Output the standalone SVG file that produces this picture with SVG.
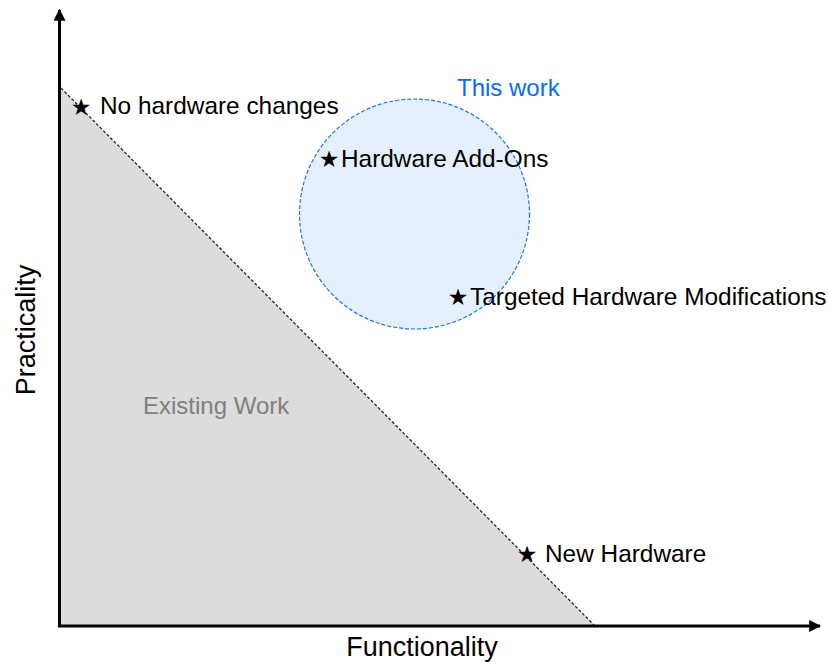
<svg xmlns="http://www.w3.org/2000/svg" width="829" height="662" viewBox="0 0 829 662">
  <style>
    text { font-family: "Liberation Sans", Arial, sans-serif; }
    .lbl { font-size: 24.4px; fill: #000; }
    .star { font-family: "DejaVu Sans", sans-serif; font-size: 23px; fill: #000; }
    .axis { stroke: #000; stroke-width: 3; fill: none; }
  </style>
  <defs>
    <marker id="arrow" viewBox="0 0 10 10" refX="9" refY="5" markerWidth="4" markerHeight="4" orient="auto" markerUnits="strokeWidth">
      <path d="M0,0 L10,5 L0,10 z" fill="#000"/>
    </marker>
  </defs>

  <!-- existing work region -->
  <g id="existing-work">
    <polygon points="61,88 61,626 595,626" fill="#dcdcdc"/>
    <line x1="61" y1="88" x2="595" y2="626" stroke="#222" stroke-width="1.3" stroke-dasharray="3,2"/>
    <text x="143" y="414" font-size="24" fill="#808080">Existing Work</text>
  </g>

  <!-- this work region -->
  <g id="this-work">
    <circle cx="414.5" cy="214" r="115" fill="#e5f0fe" stroke="#1a73f0" stroke-width="1.2" stroke-dasharray="4,2"/>
    <text x="457" y="96" font-size="24" fill="#0a6cf5">This work</text>
  </g>

  <!-- axes -->
  <g id="connectors">
    <line class="axis" x1="59.5" y1="627" x2="59.5" y2="10" marker-end="url(#arrow)"/>
    <line class="axis" x1="58" y1="626" x2="820" y2="626" marker-end="url(#arrow)"/>
  </g>

  <g id="axis-labels">
    <text x="422" y="656" font-size="27" text-anchor="middle">Functionality</text>
    <text transform="translate(35,330) rotate(-90)" font-size="27" text-anchor="middle">Practicality</text>
  </g>

  <g id="no-hardware-changes">
    <text class="star" x="81" y="115" text-anchor="middle" fill="#333">★</text>
    <text class="lbl" x="100" y="114">No hardware changes</text>
  </g>
  <g id="hardware-add-ons">
    <text class="star" x="329" y="167" text-anchor="middle">★</text>
    <text class="lbl" x="341" y="167">Hardware Add-Ons</text>
  </g>
  <g id="targeted-hardware-modifications">
    <text class="star" x="458" y="305" text-anchor="middle">★</text>
    <text class="lbl" x="470" y="305">Targeted Hardware Modifications</text>
  </g>
  <g id="new-hardware">
    <text class="star" x="527" y="562" text-anchor="middle">★</text>
    <text class="lbl" x="545" y="562">New Hardware</text>
  </g>
</svg>
